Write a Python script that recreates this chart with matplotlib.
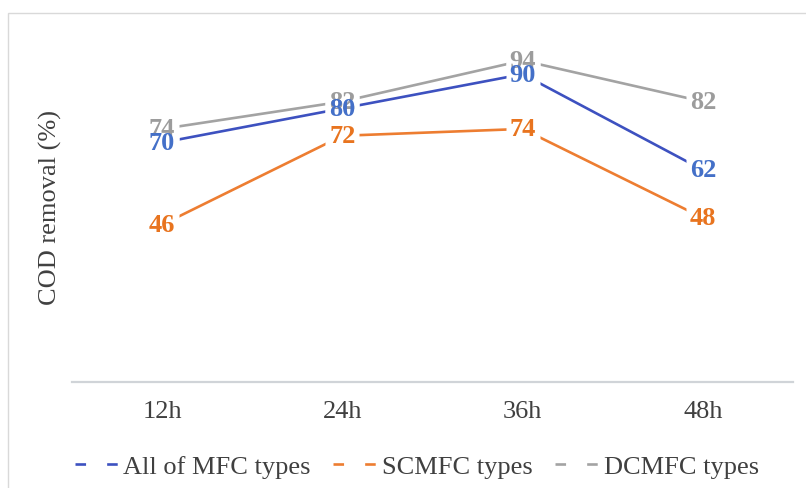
import matplotlib
matplotlib.use("Agg")
import matplotlib.pyplot as plt
from matplotlib.lines import Line2D
from matplotlib.patches import Rectangle

# Data
categories = ["12h", "24h", "36h", "48h"]
series_names = ["All of MFC types", "SCMFC types", "DCMFC types"]
all_mfc = [70, 80, 90, 62]
scmfc = [46, 72, 74, 48]
dcmfc = [74, 82, 94, 82]

line_colors = {"All of MFC types": "#3d51c0",
               "SCMFC types": "#ed7d31",
               "DCMFC types": "#a3a3a3"}
label_colors = {"All of MFC types": "#4470c8",
                "SCMFC types": "#e8741f",
                "DCMFC types": "#9c9c9c"}

plt.rcParams["font.family"] = ["Liberation Serif", "DejaVu Serif"]

W, H = 806, 489
fig = plt.figure(figsize=(W / 100, H / 100), dpi=100)
fig.patch.set_facecolor("white")

# outer chart frame
fig.patches.append(Rectangle((8 / W, -0.05), 1.1, (H - 14) / H + 0.05,
                             transform=fig.transFigure, fill=False,
                             edgecolor="#d9d9d9", linewidth=1.0))

ax = fig.add_axes([72 / W, (H - 383) / H, (793 - 72) / W, 342 / H])
x = list(range(len(categories)))

# wide rectangular marker used as a white knock-out behind each value label
label_box = [(-17, -12), (17, -12), (17, 12), (-17, 12), (-17, -12)]

series = [("DCMFC types", dcmfc), ("All of MFC types", all_mfc), ("SCMFC types", scmfc)]
for name, vals in series:
    ax.plot(x, vals, color=line_colors[name], linewidth=1.9, zorder=2,
            solid_capstyle="butt")
    ax.plot(x, vals, linestyle="none", marker=label_box, markersize=25,
            markerfacecolor="white", markeredgecolor="none", zorder=5)
    for xi, v in zip(x, vals):
        ax.text(xi, v, str(v), ha="center", va="center", fontsize=19,
                fontweight="bold", color=label_colors[name], zorder=10)

ax.set_xlim(-0.5, len(categories) - 0.5)
ax.set_ylim(0, 100)
ax.set_xticks(x)
ax.set_xticklabels(categories, fontsize=19, color="#404040")
ax.tick_params(axis="x", length=0, pad=13)
ax.set_yticks([])
for s in ["top", "right", "left"]:
    ax.spines[s].set_visible(False)
ax.spines["bottom"].set_color("#d0d4d8")
ax.spines["bottom"].set_linewidth(1.6)
ax.patch.set_alpha(0)

fig.text(50 / W, (H - 208) / H, "COD removal (%)", rotation=90,
         ha="center", va="center", fontsize=19, color="#404040")

handles = [Line2D([0], [0], color=line_colors[n], linewidth=1.9,
                  dashes=(4, 8)) for n in series_names]
fig.legend(handles, series_names, loc="center", ncol=3,
           bbox_to_anchor=(417 / W, 22 / H), frameon=False,
           fontsize=19, handlelength=1.7, handletextpad=0.15,
           columnspacing=0.85, labelcolor="#404040")

fig.savefig("out.png", dpi=100, facecolor="white")
